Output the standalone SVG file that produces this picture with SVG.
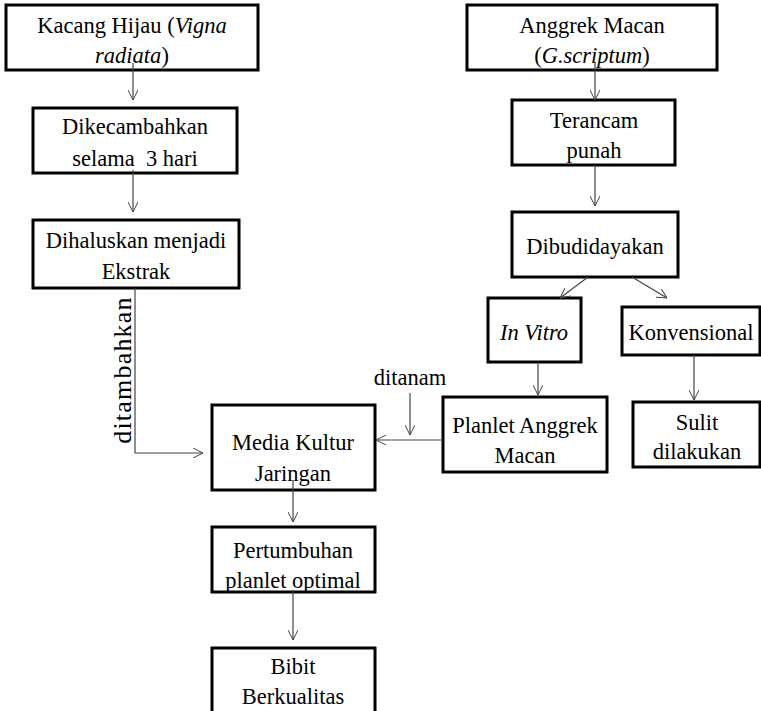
<svg xmlns="http://www.w3.org/2000/svg" width="761" height="711" viewBox="0 0 761 711">
<defs>
<marker id="ah" viewBox="0 0 10 10" refX="10" refY="5" markerWidth="10" markerHeight="10" markerUnits="userSpaceOnUse" orient="auto">
<path d="M0,0 L10,5 L0,10" fill="none" stroke="#444" stroke-width="1"/>
</marker>
<style>
.box{fill:#fff;stroke:#000;stroke-width:3}
.t{font-family:"Liberation Serif","Times New Roman",serif;font-size:22.5px;fill:#000;text-anchor:middle;white-space:pre}
.i{font-style:italic}
.c{fill:none;stroke:#444;stroke-width:1.2;marker-end:url(#ah)}
</style>
</defs>
<rect width="761" height="711" fill="#fff"/>
<g id="n1"><rect class="box" x="6" y="5" width="252" height="65"/>
<text class="t" x="132" y="33">Kacang Hijau (<tspan class="i">Vigna</tspan></text>
<text class="t" x="132" y="63"><tspan class="i">radiata</tspan>)</text></g>
<g id="n2"><rect class="box" x="33" y="108" width="204" height="65"/>
<text class="t" x="135" y="134">Dikecambahkan</text>
<text class="t" x="135" y="166" xml:space="preserve">selama  3 hari</text></g>
<g id="n3"><rect class="box" x="33" y="220" width="206" height="68"/>
<text class="t" x="136" y="248">Dihaluskan menjadi</text>
<text class="t" x="136" y="279">Ekstrak</text></g>
<g id="n4"><rect class="box" x="467" y="5" width="250" height="65"/>
<text class="t" x="592" y="33">Anggrek Macan</text>
<text class="t" x="592" y="63">(<tspan class="i">G.scriptum</tspan>)</text></g>
<g id="n5"><rect class="box" x="512" y="100" width="163" height="65"/>
<text class="t" x="594" y="128">Terancam</text>
<text class="t" x="594" y="158">punah</text></g>
<g id="n6"><rect class="box" x="512" y="212" width="166" height="65"/>
<text class="t" x="595" y="254">Dibudidayakan</text></g>
<g id="n7"><rect class="box" x="488" y="298" width="93" height="64"/>
<text class="t i" x="534" y="340">In Vitro</text></g>
<g id="n8"><rect class="box" x="622" y="307" width="138" height="48"/>
<text class="t" x="691" y="340">Konvensional</text></g>
<g id="n9"><rect class="box" x="443" y="397" width="164" height="75"/>
<text class="t" x="525" y="433">Planlet Anggrek</text>
<text class="t" x="525" y="463">Macan</text></g>
<g id="n10"><rect class="box" x="633" y="402" width="127" height="65"/>
<text class="t" x="697" y="430">Sulit</text>
<text class="t" x="697" y="459">dilakukan</text></g>
<g id="n11"><rect class="box" x="212" y="405" width="163" height="85"/>
<text class="t" x="293" y="450">Media Kultur</text>
<text class="t" x="293" y="481">Jaringan</text></g>
<g id="n12"><rect class="box" x="212" y="527" width="163" height="65"/>
<text class="t" x="293" y="558">Pertumbuhan</text>
<text class="t" x="293" y="588">planlet optimal</text></g>
<g id="n13"><rect class="box" x="212" y="648" width="163" height="70"/>
<text class="t" x="293" y="674">Bibit</text>
<text class="t" x="293" y="704">Berkualitas</text></g>
<g id="connectors">
<line class="c" x1="133" y1="63" x2="133" y2="100"/>
<line class="c" x1="133" y1="170" x2="133" y2="212"/>
<polyline class="c" points="135,288 135,453 203,453"/>
<text class="t" style="font-size:26px;letter-spacing:1.2px" transform="translate(131,370) rotate(-90)">ditambahkan</text>
<line class="c" x1="595" y1="62" x2="595" y2="100"/>
<line class="c" x1="595" y1="165" x2="595" y2="206"/>
<line class="c" x1="588" y1="277" x2="560" y2="298"/>
<line class="c" x1="632" y1="277" x2="667" y2="298"/>
<line class="c" x1="538" y1="362" x2="538" y2="395"/>
<line class="c" x1="694" y1="355" x2="694" y2="400"/>
<line class="c" x1="443" y1="440" x2="376" y2="440"/>
<text class="t" x="410" y="385">ditanam</text>
<line class="c" x1="410" y1="393" x2="410" y2="435"/>
<line class="c" x1="293" y1="480" x2="293" y2="522"/>
<line class="c" x1="293" y1="590" x2="293" y2="640"/>
</g>
</svg>
